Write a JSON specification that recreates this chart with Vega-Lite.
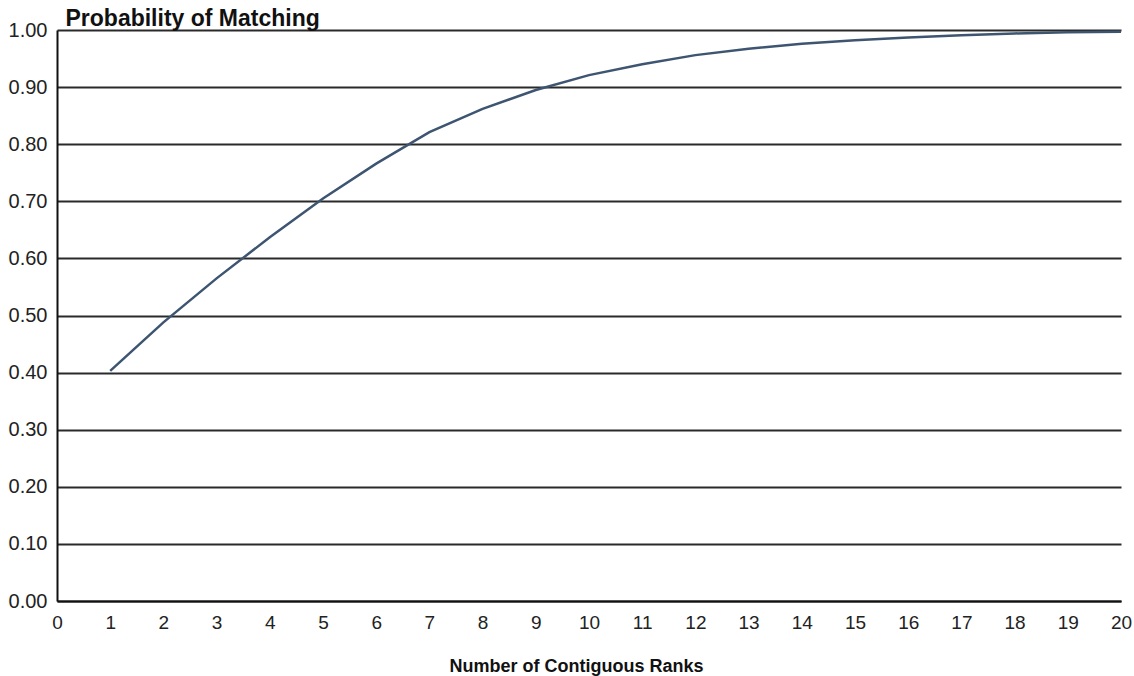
{
  "$schema": "https://vega.github.io/schema/vega-lite/v6.json",
  "width": 1064,
  "height": 571,
  "autosize": {"type": "none"},
  "padding": {"left": 57, "top": 30, "right": 13, "bottom": 75},
  "background": "white",
  "config": {
    "view": {"stroke": null},
    "font": "Liberation Sans"
  },
  "data": {
    "values": [
      {"ranks": 1, "p": 0.403},
      {"ranks": 2, "p": 0.488},
      {"ranks": 3, "p": 0.565},
      {"ranks": 4, "p": 0.637},
      {"ranks": 5, "p": 0.705},
      {"ranks": 6, "p": 0.766},
      {"ranks": 7, "p": 0.821},
      {"ranks": 8, "p": 0.862},
      {"ranks": 9, "p": 0.895},
      {"ranks": 10, "p": 0.921},
      {"ranks": 11, "p": 0.94},
      {"ranks": 12, "p": 0.956},
      {"ranks": 13, "p": 0.967},
      {"ranks": 14, "p": 0.976},
      {"ranks": 15, "p": 0.982},
      {"ranks": 16, "p": 0.987},
      {"ranks": 17, "p": 0.991},
      {"ranks": 18, "p": 0.994},
      {"ranks": 19, "p": 0.996},
      {"ranks": 20, "p": 0.997}
    ]
  },
  "mark": {"type": "line", "color": "#3d5571", "strokeWidth": 2.5},
  "encoding": {
    "x": {
      "field": "ranks",
      "type": "quantitative",
      "scale": {"domain": [0, 20], "nice": false},
      "axis": {
        "values": [0,1,2,3,4,5,6,7,8,9,10,11,12,13,14,15,16,17,18,19,20],
        "grid": false,
        "ticks": false,
        "domain": true,
        "domainColor": "#111",
        "domainWidth": 2,
        "labelFontSize": 19,
        "labelColor": "#222",
        "labelPadding": 12,
        "labelFlush": false,
        "title": "Number of Contiguous Ranks",
        "titleFontSize": 18,
        "titleFontWeight": "bold",
        "titleColor": "#111",
        "titleX": 519,
        "titleY": 70,
        "titleBaseline": "alphabetic",
        "titleAnchor": null
      }
    },
    "y": {
      "field": "p",
      "type": "quantitative",
      "scale": {"domain": [0, 1], "nice": false},
      "axis": {
        "values": [0, 0.1, 0.2, 0.3, 0.4, 0.5, 0.6, 0.7, 0.8, 0.9, 1.0],
        "format": ".2f",
        "grid": true,
        "gridColor": "#2a2a2a",
        "gridWidth": 2,
        "ticks": false,
        "domain": true,
        "domainColor": "#111",
        "domainWidth": 2,
        "labelFontSize": 20,
        "labelColor": "#222",
        "labelPadding": 10,
        "labelFlush": false,
        "title": "Probability of Matching",
        "titleFontSize": 23,
        "titleFontWeight": "bold",
        "titleColor": "#111",
        "titleAngle": 0,
        "titleAlign": "left",
        "titleBaseline": "alphabetic",
        "titleX": 8,
        "titleY": -5
      }
    }
  }
}
